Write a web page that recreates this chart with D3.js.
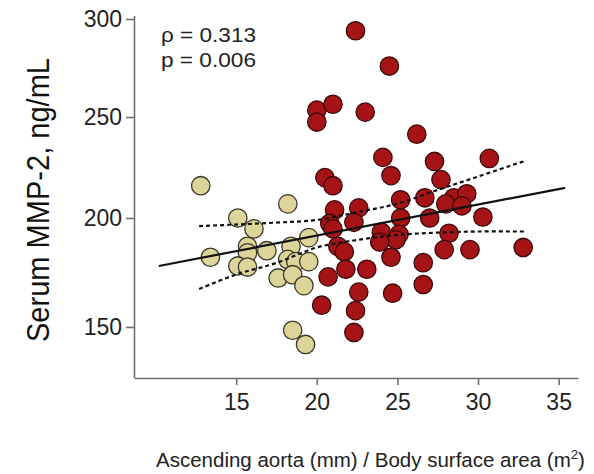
<!DOCTYPE html>
<html>
<head>
<meta charset="utf-8">
<script src="https://cdn.jsdelivr.net/npm/d3@7"></script>
<style>
  html, body { margin: 0; padding: 0; background: #fff; }
  svg { display: block; font-family: "Liberation Sans", Arial, sans-serif; }
</style>
</head>
<body>
<svg id="chart" width="594" height="474"></svg>
<script>
// Group with smaller indexed aorta (light markers)
const groupOneX = [12.8, 18.2, 15.1, 16.1, 19.5, 15.7, 15.7, 16.9, 18.4, 13.4,
                   15.1, 15.7, 18.2, 18.7, 19.5, 17.6, 18.5, 19.2, 18.5, 19.3];
const groupOneY = [216, 207, 200, 195, 191, 187, 184, 185, 187, 182,
                   178, 177.5, 181, 180, 180, 172.5, 174, 169, 148.5, 142];

// Group with larger indexed aorta (red markers)
const groupTwoX = [22.4, 24.5, 20.0, 21.0, 20.0, 23.0, 26.2, 24.1, 27.3, 30.7,
                   24.6, 20.5, 21.0, 27.7, 25.2, 26.7, 28.5, 29.3, 28.0, 29.0,
                   21.1, 22.6, 25.2, 27.0, 30.3, 22.3, 20.8, 21.0, 24.0, 25.1,
                   24.9, 28.2, 23.9, 21.3, 21.7, 24.6, 26.6, 27.9, 29.5, 32.8,
                   21.8, 23.1, 20.7, 26.6, 22.6, 24.7, 20.3, 22.4, 22.3];
const groupTwoY = [294, 276, 253.5, 256.5, 247.5, 252.5, 241.5, 230, 228, 229.5,
                   221, 220, 216, 219, 209, 210, 210, 212, 207, 206,
                   204, 205, 200, 200, 200.5, 198, 197.5, 195, 193.5, 192.5,
                   190, 193, 189, 187, 184.5, 182, 179.5, 185.5, 185.5, 186.5,
                   176.5, 176.5, 173, 169.5, 166, 165.5, 160, 157.5, 147.5];

// Regression line and its confidence band
const fitX = [10.2, 35.4];
const fitY = [178.0, 214.9];
const bandX = [12.7, 15, 17.5, 20, 22.5, 25, 27.5, 30, 32.5, 32.9];
const bandUpper = [196.3, 197.0, 197.9, 199.1, 202.9, 207.1, 213.9, 220.5, 227.2, 228.2];
const bandLower = [167.4, 174.1, 179.4, 186.5, 189.9, 192.2, 193.3, 193.8, 193.8, 193.8];

const xTicks = [15, 20, 25, 30, 35];
const yTicks = [150, 200, 250, 300];

const statLines = ["\u03C1 = 0.313", "p = 0.006"];
const yTitle = "Serum MMP-2, ng/mL";

const svg = d3.select("#chart");

const x = d3.scaleLinear().domain([8.66, 36.2]).range([134, 578]);
const y = d3.scaleLinear().domain([126.6, 150, 200, 250, 300]).range([378, 327, 218, 117, 19]);

const axisColor = "#6e6e6e";

// Y axis
const yAxis = svg.append("g")
  .attr("transform", "translate(134,0)")
  .call(d3.axisLeft(y).tickValues(yTicks).tickSize(8).tickSizeOuter(0).tickPadding(4));
yAxis.select(".domain").attr("stroke", axisColor).attr("stroke-width", 1.6)
  .attr("d", `M0.5,${y(300) - 3}V${y.range()[0]}`);
yAxis.selectAll(".tick line").attr("stroke", axisColor).attr("stroke-width", 1.6);
yAxis.selectAll(".tick text").attr("font-size", 23).attr("fill", "#222")
  .attr("font-family", "Liberation Sans, Arial, sans-serif");

// X axis
const xAxis = svg.append("g")
  .attr("transform", "translate(0,378)")
  .call(d3.axisBottom(x).tickValues(xTicks).tickSize(7).tickSizeOuter(0).tickPadding(9));
xAxis.select(".domain").attr("stroke", axisColor).attr("stroke-width", 1.6);
xAxis.selectAll(".tick line").attr("stroke", axisColor).attr("stroke-width", 1.6);
xAxis.selectAll(".tick text").attr("font-size", 23).attr("fill", "#222")
  .attr("font-family", "Liberation Sans, Arial, sans-serif");

// Markers
const r = 9.2;
svg.append("g").selectAll("circle")
  .data(d3.zip(groupOneX, groupOneY))
  .join("circle")
  .attr("cx", d => x(d[0]))
  .attr("cy", d => y(d[1]))
  .attr("r", r)
  .attr("fill", "#ddd49a")
  .attr("stroke", "#3a3828")
  .attr("stroke-width", 1.3);

svg.append("g").selectAll("circle")
  .data(d3.zip(groupTwoX, groupTwoY))
  .join("circle")
  .attr("cx", d => x(d[0]))
  .attr("cy", d => y(d[1]))
  .attr("r", r)
  .attr("fill", "#a51317")
  .attr("stroke", "#3a0808")
  .attr("stroke-width", 1.3);

// Fit line and confidence band
const line = d3.line().x(d => x(d[0])).y(d => y(d[1]));
svg.append("path")
  .attr("d", line(d3.zip(fitX, fitY)))
  .attr("fill", "none").attr("stroke", "#111").attr("stroke-width", 2.2);

const bandLine = d3.line().x(d => x(d[0])).y(d => y(d[1])).curve(d3.curveCatmullRom);
[bandUpper, bandLower].forEach(vals => {
  svg.append("path")
    .attr("d", bandLine(d3.zip(bandX, vals)))
    .attr("fill", "none").attr("stroke", "#111").attr("stroke-width", 2.2)
    .attr("stroke-dasharray", "4,3");
});

// Correlation statistics
svg.append("g").selectAll("text")
  .data(statLines)
  .join("text")
  .attr("x", 161)
  .attr("y", (d, i) => 42 + i * 25)
  .attr("font-size", 20)
  .attr("fill", "#222")
  .attr("textLength", 95)
  .attr("lengthAdjust", "spacingAndGlyphs")
  .text(d => d);

// Axis titles
svg.append("text")
  .attr("transform", "translate(49,200) rotate(-90)")
  .attr("text-anchor", "middle")
  .attr("font-size", 31)
  .attr("fill", "#111")
  .attr("textLength", 284)
  .attr("lengthAdjust", "spacingAndGlyphs")
  .text(yTitle);

const xt = svg.append("text")
  .attr("x", 156)
  .attr("y", 467)
  .attr("font-size", 20.5)
  .attr("fill", "#222");
xt.append("tspan").text("Ascending aorta (mm) / Body surface area (m");
xt.append("tspan").attr("font-size", 13).attr("dy", -8).text("2");
xt.append("tspan").attr("dy", 8).text(")");
</script>
</body>
</html>
